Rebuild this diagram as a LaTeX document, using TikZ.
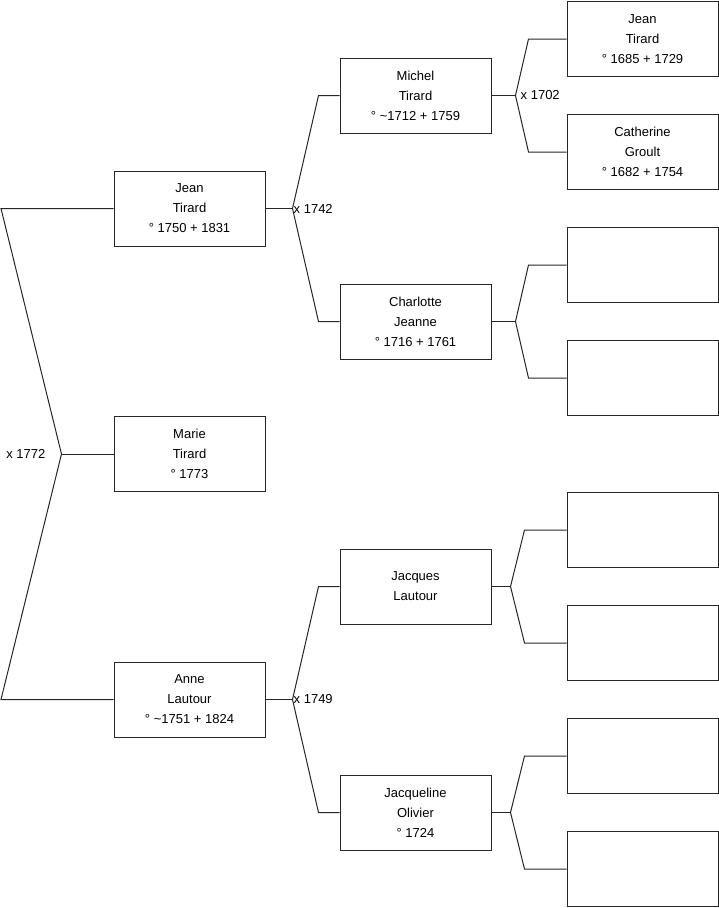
\documentclass[tikz,border=0pt]{standalone}
\usepackage{fontspec}
\setmainfont{Liberation Sans}
\usetikzlibrary{positioning}

\begin{document}
\begin{tikzpicture}[
  x=1pt, y=-1pt, on grid,
  font=\fontsize{13}{20}\selectfont,
  person/.style={draw=black!85, line width=1pt, align=center, minimum width=151pt, minimum height=75pt, inner sep=0pt},
  link/.style={draw=black!85, line width=1pt},
  wed/.style={anchor=west, inner sep=0pt}
]
\useasboundingbox (0,0) rectangle (719,908);

% generation 1
\node[person] (marie) at (189.5,454) {Marie\\Tirard\\° 1773};
\node[person, above=245.5pt of marie] (jean) {Jean\\Tirard\\° 1750 + 1831};
\node[person, below=245.5pt of marie] (anne) {Anne\\Lautour\\° \textasciitilde1751 + 1824};

% generation 2
\node[person, above right=113pt and 226pt of jean] (michel) {Michel\\Tirard\\° \textasciitilde1712 + 1759};
\node[person, below right=113pt and 226pt of jean] (charlotte) {Charlotte\\Jeanne\\° 1716 + 1761};
\node[person, above right=113pt and 226pt of anne] (jacques) {Jacques\\Lautour};
\node[person, below right=113pt and 226pt of anne] (jacqueline) {Jacqueline\\Olivier\\° 1724};

% generation 3
\node[person, above right=56.5pt and 227pt of michel] (jeanf) {Jean\\Tirard\\° 1685 + 1729};
\node[person, below right=56.5pt and 227pt of michel] (catherine) {Catherine\\Groult\\° 1682 + 1754};
\node[person, above right=56.5pt and 227pt of charlotte] (charlottef) {};
\node[person, below right=56.5pt and 227pt of charlotte] (charlottem) {};
\node[person, above right=56.5pt and 227pt of jacques] (jacquesf) {};
\node[person, below right=56.5pt and 227pt of jacques] (jacquesm) {};
\node[person, above right=56.5pt and 227pt of jacqueline] (jacquelinef) {};
\node[person, below right=56.5pt and 227pt of jacqueline] (jacquelinem) {};

% marie's parents
\coordinate (mx) at ([xshift=-52pt]marie.west);
\draw[link] (jean.west) -- (jean.west -| 1,0) -- (mx) -- (anne.west -| 1,0) -- (anne.west);
\draw[link] (mx) -- (marie.west);
\node[anchor=east, inner sep=0pt] (w1772) at ([xshift=-16pt]mx) {x 1772};

% jean's parents
\coordinate (jx) at ([xshift=27pt]jean.east);
\draw[link] (jean.east) -- (jx);
\draw[link] (michel.west) -- ++(-21,0) -- (jx) -- ([xshift=-21pt]charlotte.west) -- (charlotte.west);
\node[wed, xshift=1pt] (w1742) at (jx) {x 1742};

% anne's parents
\coordinate (ax) at ([xshift=27pt]anne.east);
\draw[link] (anne.east) -- (ax);
\draw[link] (jacques.west) -- ++(-21,0) -- (ax) -- ([xshift=-21pt]jacqueline.west) -- (jacqueline.west);
\node[wed, xshift=1pt] (w1749) at (ax) {x 1749};

% michel's parents
\coordinate (mix) at ([xshift=24pt]michel.east);
\draw[link] (michel.east) -- (mix);
\draw[link] (jeanf.west) -- ++(-38,0) -- (mix) -- ([xshift=-38pt]catherine.west) -- (catherine.west);
\node[wed, xshift=5pt] (w1702) at (mix) {x 1702};

% charlotte's parents
\coordinate (cx) at ([xshift=24pt]charlotte.east);
\draw[link] (charlotte.east) -- (cx);
\draw[link] (charlottef.west) -- ++(-38,0) -- (cx) -- ([xshift=-38pt]charlottem.west) -- (charlottem.west);

% jacques's parents
\coordinate (jax) at ([xshift=19pt]jacques.east);
\draw[link] (jacques.east) -- (jax);
\draw[link] (jacquesf.west) -- ++(-42,0) -- (jax) -- ([xshift=-42pt]jacquesm.west) -- (jacquesm.west);

% jacqueline's parents
\coordinate (jlx) at ([xshift=19pt]jacqueline.east);
\draw[link] (jacqueline.east) -- (jlx);
\draw[link] (jacquelinef.west) -- ++(-42,0) -- (jlx) -- ([xshift=-42pt]jacquelinem.west) -- (jacquelinem.west);
\end{tikzpicture}
\end{document}
